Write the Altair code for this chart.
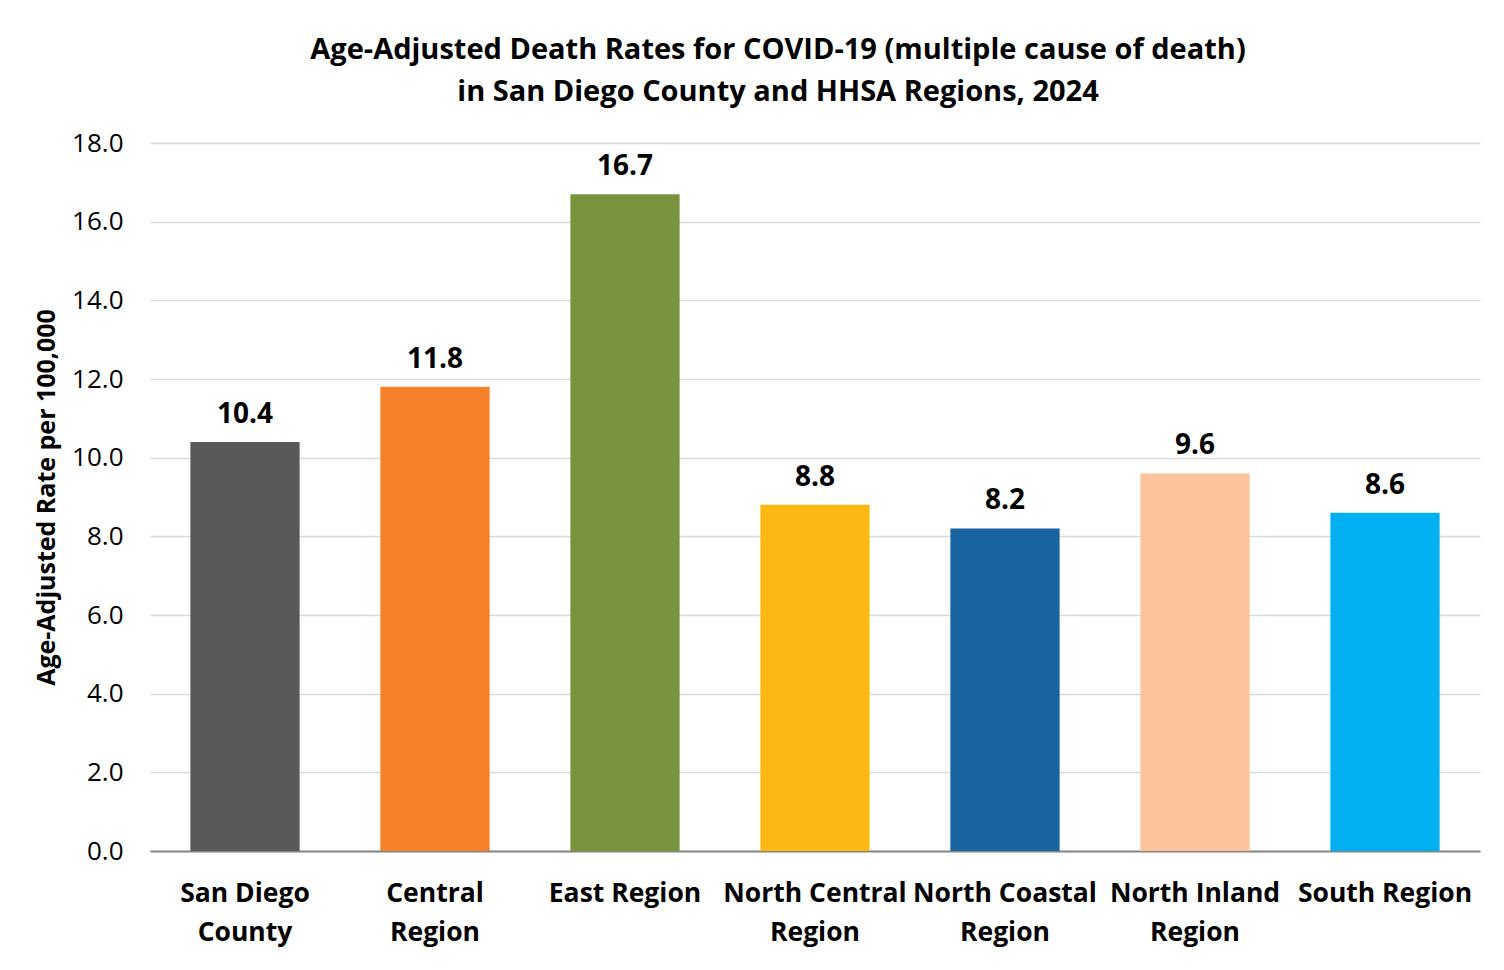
import altair as alt
import pandas as pd

regions = ["San Diego County", "Central Region", "East Region", "North Central Region",
           "North Coastal Region", "North Inland Region", "South Region"]
label_lines = ["San Diego|County", "Central|Region", "East Region", "North Central|Region",
               "North Coastal|Region", "North Inland|Region", "South Region"]
rates = [10.4, 11.8, 16.7, 8.8, 8.2, 9.6, 8.6]
colors = ["#595959", "#F5822A", "#77933C", "#FDB913", "#1764A0", "#FBC49C", "#00B0F0"]

df = pd.DataFrame({"region": regions, "rate": rates, "lines": label_lines})

FONT = "Open Sans"
label_map = "{" + ",".join(f"'{r}':'{l}'" for r, l in zip(regions, label_lines)) + "}"

x = alt.X("region:N", sort=regions,
          scale=alt.Scale(paddingInner=0.425, paddingOuter=0.2125),
          axis=alt.Axis(title=None, labelAngle=0, labelFont=FONT, labelFontSize=26.5,
                        labelFontWeight="bold", labelColor="#000000", labelPadding=29,
                        labelLineHeight=39, ticks=False, domainColor="#868686", domainWidth=2,
                        labelExpr="split(" + label_map + "[datum.label], '|')",
                        labelBaseline="top", labelLimit=300))
y = alt.Y("rate:Q", scale=alt.Scale(domain=[0, 18], nice=False),
          axis=alt.Axis(title="Age-Adjusted Rate per 100,000", values=[0, 2, 4, 6, 8, 10, 12, 14, 16, 18],
                        format=".1f", labelFont=FONT, labelFontSize=26, labelColor="#000000",
                        labelPadding=27, ticks=False, domain=False, gridColor="#D9D9D9",
                        gridWidth=1.5, titleFont=FONT, titleFontSize=25, titleFontWeight="bold",
                        titleColor="#000000", titlePadding=12))

bars = alt.Chart(df).mark_bar().encode(
    x=x, y=y,
    color=alt.Color("region:N", sort=regions, scale=alt.Scale(domain=regions, range=colors), legend=None),
)
texts = alt.Chart(df).mark_text(font=FONT, fontSize=28, fontWeight="bold", color="#000000",
                                baseline="bottom", dy=-13).encode(
    x=alt.X("region:N", sort=regions), y="rate:Q", text=alt.Text("rate:Q", format=".1f"))

chart = (bars + texts).properties(
    width=1330, height=708,
    autosize=alt.AutoSizeParams(type="none"),
    padding={"left": 142, "top": 135, "right": 16, "bottom": 111},
    title=alt.TitleParams(
        text=["Age-Adjusted Death Rates for COVID-19 (multiple cause of death)",
              "in San Diego County and HHSA Regions, 2024"],
        font=FONT, fontSize=29, fontWeight="bold", color="#000000",
        anchor="middle", lineHeight=42, offset=23, dx=-37),
).configure(background="#FFFFFF").configure_view(stroke=None)

chart.save("out.html", embed_options={"renderer": "svg", "actions": False})
